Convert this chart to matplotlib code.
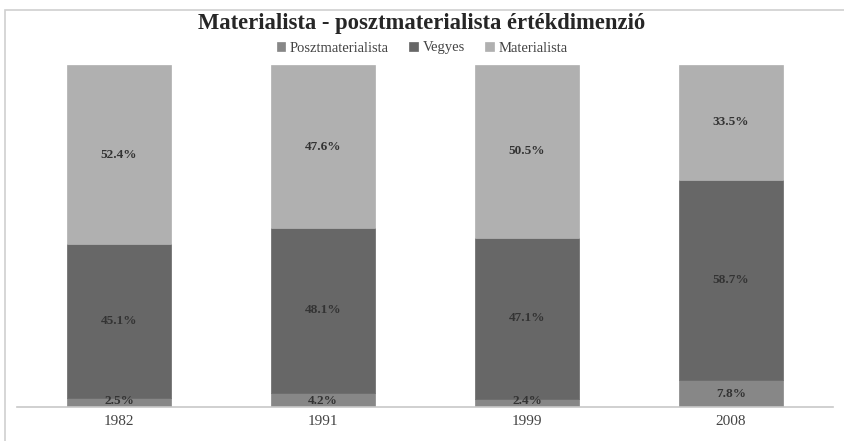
import matplotlib.pyplot as plt
from matplotlib.patches import Rectangle

years = ['1982', '1991', '1999', '2008']
poszt = [2.5, 4.2, 2.4, 7.8]
vegyes = [45.1, 48.1, 47.1, 58.7]
mater = [52.4, 47.6, 50.5, 33.5]

series = [('Posztmaterialista', poszt, '#878787'),
          ('Vegyes', vegyes, '#676767'),
          ('Materialista', mater, '#b0b0b0')]

plt.rcParams['font.family'] = ['Liberation Serif', 'DejaVu Serif']

fig = plt.figure(figsize=(8.44, 4.41), dpi=100)
fig.patches.append(Rectangle((5 / 844, -0.05), 1.2, 1 - 10 / 441 + 0.05,
                             transform=fig.transFigure, fill=False,
                             edgecolor='#d0d0d0', linewidth=1.2))
ax = fig.add_axes([17 / 844, 1 - 407 / 441, 816 / 844, 342 / 441])

x = range(len(years))
bottom = [0] * len(years)
for name, vals, col in series:
    bars = ax.bar(x, vals, width=0.51, bottom=bottom, color=col, label=name,
                  edgecolor=col, linewidth=0.5)
    for i, v in enumerate(vals):
        if v < 5:
            ypos = bottom[i] + 0.1
            va = 'bottom'
        else:
            ypos = bottom[i] + v / 2
            va = 'center'
        ax.text(i, ypos, f'{v}%', ha='center', va=va, fontsize=9.5,
                fontweight='bold', color='#333333')
    bottom = [b + v for b, v in zip(bottom, vals)]

ax.set_xlim(-0.5, 3.5)
ax.set_ylim(0, 100)
ax.set_xticks(list(x))
ax.set_xticklabels(years, fontsize=11, color='#444444')
ax.tick_params(axis='x', length=0, pad=6)
ax.set_yticks([])
for s in ['top', 'right', 'left']:
    ax.spines[s].set_visible(False)
ax.spines['bottom'].set_color('#c8c8c8')
ax.spines['bottom'].set_linewidth(1.2)

fig.text(0.5, 1 - 23 / 441, 'Materialista - posztmaterialista értékdimenzió',
         ha='center', va='center', fontsize=16.3, fontweight='bold', color='#262626')
fig.legend(loc='center', bbox_to_anchor=(0.5, 1 - 48 / 441), ncol=3, frameon=False,
           fontsize=10.5, handlelength=0.6, handleheight=0.6, handletextpad=0.3,
           columnspacing=1.4, labelcolor='#444444')

fig.savefig('out.png', dpi=100)
